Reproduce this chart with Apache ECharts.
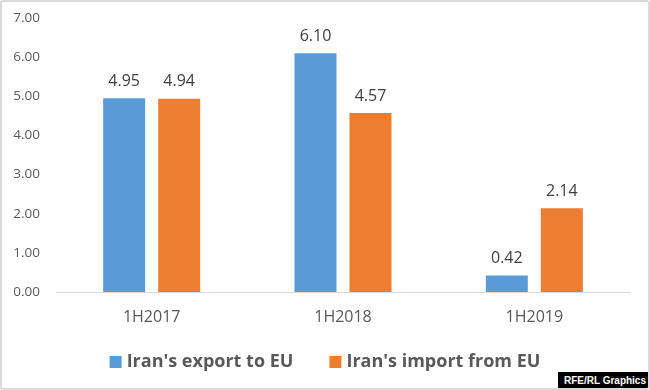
<!DOCTYPE html>
<html><head><meta charset="utf-8">
<script src="https://cdn.jsdelivr.net/npm/echarts@6/dist/echarts.min.js"></script>
<style>
html,body{margin:0;padding:0;background:#fff;}
#wrap{position:relative;width:650px;height:390px;box-sizing:border-box;border:2px solid #d9d9d9;border-radius:3px;overflow:hidden;}
#c{position:absolute;left:-2px;top:-2px;width:650px;height:390px;}
#badge{position:absolute;right:-2px;bottom:-2px;background:#000;color:#fff;font:bold 10px "Liberation Sans",Arial,sans-serif;padding:3px 4px 3px 6px;line-height:12px;}
</style></head>
<body><div id="wrap"><div id="c"></div><div id="badge">RFE/RL Graphics</div></div>
<script>
var categories = ['1H2017', '1H2018', '1H2019'];
var exportToEU = [4.95, 6.10, 0.42];
var importFromEU = [4.94, 4.57, 2.14];
var seriesNames = ["Iran's export to EU", "Iran's import from EU"];
var yTicks = {min: 0, max: 7, interval: 1};

var chart = echarts.init(document.getElementById('c'));
var font = '"Open Sans", sans-serif';
var lbl = {show: true, position: 'top', distance: 9, color: '#404040', fontSize: 16, fontFamily: font,
  formatter: function(p){return p.value.toFixed(2);}};
chart.setOption({
  animation: false,
  grid: {left: 56, right: 20, top: 18, bottom: 98},
  legend: {bottom: 14, left: 'center', itemWidth: 12, itemHeight: 12, itemGap: 36, icon: 'rect',
    textStyle: {color: '#595959', fontSize: 18, fontWeight: 'bold', fontFamily: font},
    data: seriesNames},
  xAxis: {type: 'category', data: categories,
    axisLine: {lineStyle: {color: '#d9d9d9', width: 1}}, axisTick: {show: false},
    axisLabel: {color: '#595959', fontSize: 16, fontFamily: font, margin: 17}},
  yAxis: {type: 'value', min: yTicks.min, max: yTicks.max, interval: yTicks.interval,
    splitLine: {show: false}, axisLine: {show: false}, axisTick: {show: false},
    axisLabel: {color: '#595959', fontSize: 13.5, fontFamily: font, margin: 16,
      formatter: function(v){return v.toFixed(2);}}},
  series: [
    {name: seriesNames[0], type: 'bar', data: exportToEU, barWidth: 42, barGap: '31%',
      itemStyle: {color: '#5B9BD5'}, label: lbl},
    {name: seriesNames[1], type: 'bar', data: importFromEU, barWidth: 42,
      itemStyle: {color: '#ED7D31'}, label: lbl}
  ]
});
</script></body></html>
